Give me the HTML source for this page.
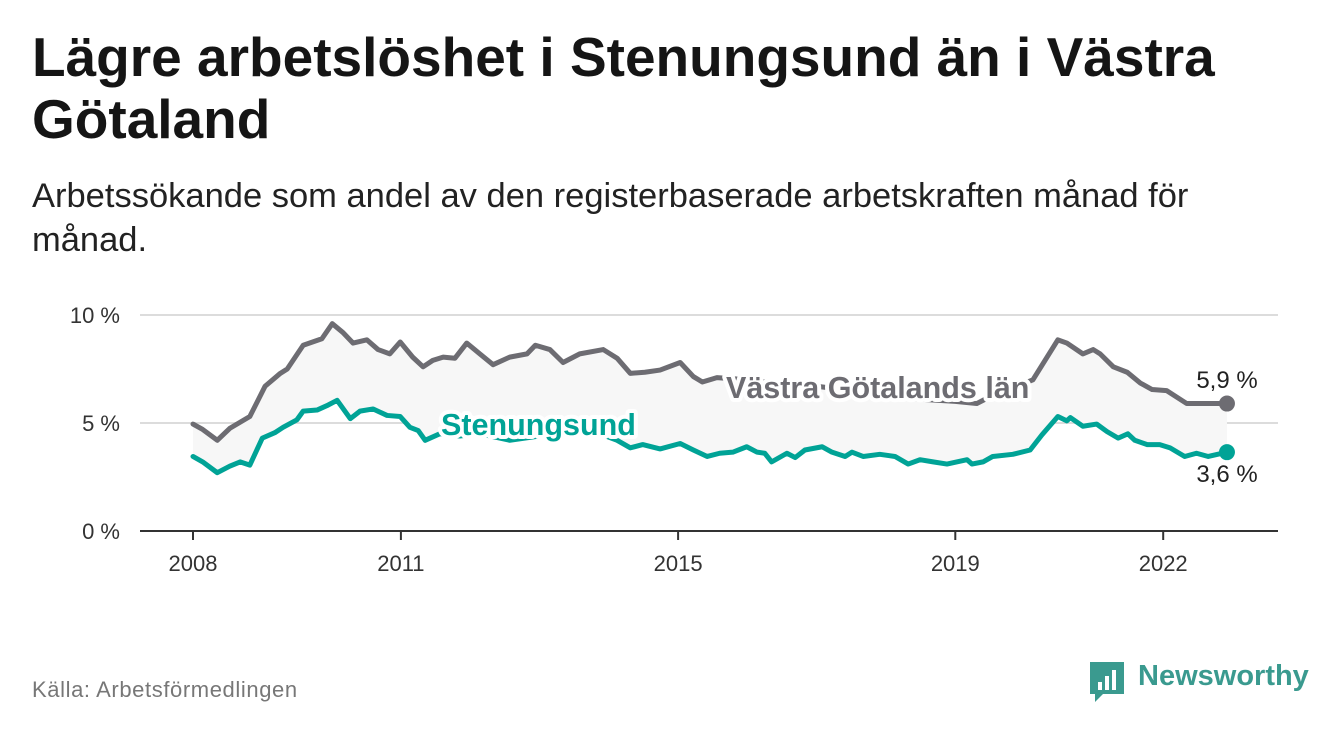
<!DOCTYPE html>
<html><head><meta charset="utf-8">
<style>
body{margin:0;width:1340px;height:734px;background:#fff;font-family:"Liberation Sans",sans-serif;overflow:hidden;position:relative}
h1{position:absolute;left:32px;top:26px;margin:0;font-size:55px;line-height:62px;font-weight:bold;color:#151515;width:1280px}
.sub{position:absolute;left:32px;top:174px;margin:0;font-size:34.5px;line-height:44px;color:#222;width:1220px}
.src{position:absolute;left:32px;top:677px;font-size:22px;letter-spacing:0.6px;color:#777}
.logo{position:absolute;left:1088px;top:660px}
.logo span{position:absolute;left:50px;top:0px;font-size:29px;font-weight:bold;color:#3a9a8f;white-space:nowrap}
</style></head><body>
<h1>Lägre arbetslöshet i Stenungsund än i Västra Götaland</h1>
<p class="sub">Arbetssökande som andel av den registerbaserade arbetskraften månad för månad.</p>
<svg id="chart" width="1340" height="734" style="position:absolute;left:0;top:0" xmlns="http://www.w3.org/2000/svg"></svg>
<div class="src">Källa: Arbetsförmedlingen</div>
<div class="logo">
<svg width="40" height="44"><path d="M2 2h34v32H15l-8 8v-8H2z" fill="#3a9a8f"/><rect x="10" y="22" width="4" height="8" fill="#fff"/><rect x="17" y="16" width="4" height="14" fill="#fff"/><rect x="24" y="10" width="4" height="20" fill="#fff"/></svg>
<span>Newsworthy</span></div>
<script>
const grayYears=[2008.00,2008.14,2008.35,2008.53,2008.82,2009.04,2009.26,2009.36,2009.59,2009.86,2010.01,2010.16,2010.31,2010.51,2010.67,2010.84,2010.99,2011.17,2011.32,2011.46,2011.61,2011.78,2011.95,2012.14,2012.33,2012.57,2012.82,2012.94,2013.15,2013.34,2013.58,2013.92,2014.12,2014.31,2014.52,2014.74,2015.03,2015.22,2015.35,2015.56,2016.0,2016.5,2017.0,2017.5,2018.0,2018.5,2019.0,2019.31,2019.43,2020.12,2020.48,2020.61,2020.84,2020.99,2021.09,2021.28,2021.48,2021.67,2021.84,2022.05,2022.34,2022.92];
const grayValues=[4.95,4.7,4.2,4.75,5.3,6.7,7.3,7.5,8.6,8.9,9.6,9.2,8.7,8.85,8.4,8.2,8.75,8.05,7.6,7.9,8.05,8.0,8.7,8.2,7.7,8.05,8.2,8.6,8.4,7.8,8.2,8.4,8.0,7.3,7.35,7.45,7.8,7.15,6.9,7.1,7.0,6.8,6.7,6.5,6.3,6.1,6.0,5.9,6.1,7.0,8.85,8.7,8.2,8.4,8.2,7.6,7.35,6.85,6.55,6.5,5.9,5.9];
const tealYears=[2008.00,2008.14,2008.35,2008.53,2008.68,2008.82,2009.00,2009.18,2009.30,2009.50,2009.59,2009.79,2009.93,2010.08,2010.27,2010.41,2010.60,2010.80,2010.99,2011.13,2011.25,2011.35,2011.56,2011.85,2012.14,2012.57,2013.01,2013.44,2013.87,2014.12,2014.31,2014.49,2014.74,2015.03,2015.22,2015.42,2015.60,2015.79,2015.99,2016.14,2016.25,2016.35,2016.57,2016.69,2016.83,2017.08,2017.22,2017.41,2017.51,2017.67,2017.91,2018.13,2018.32,2018.49,2018.68,2018.88,2019.02,2019.17,2019.24,2019.40,2019.54,2019.83,2020.08,2020.25,2020.48,2020.61,2020.66,2020.84,2021.04,2021.19,2021.35,2021.49,2021.59,2021.77,2021.95,2022.10,2022.31,2022.48,2022.65,2022.92];
const tealValues=[3.45,3.2,2.7,3.0,3.2,3.05,4.3,4.55,4.8,5.15,5.55,5.6,5.8,6.05,5.2,5.55,5.65,5.35,5.3,4.8,4.65,4.2,4.5,4.4,4.5,4.2,4.4,4.6,4.5,4.2,3.85,4.0,3.8,4.05,3.75,3.45,3.6,3.65,3.9,3.65,3.6,3.2,3.6,3.4,3.75,3.9,3.65,3.45,3.65,3.45,3.55,3.45,3.1,3.3,3.2,3.1,3.2,3.3,3.1,3.2,3.45,3.55,3.75,4.45,5.3,5.1,5.25,4.85,4.95,4.6,4.3,4.5,4.2,4.0,4.0,3.85,3.45,3.6,3.45,3.65];
const yTicks=[0,5,10];
const yTickLabels=["0 %","5 %","10 %"];
const xTicks=[2008,2011,2015,2019,2022];
const xTickLabels=["2008","2011","2015","2019","2022"];
const grayEndLabel="5,9 %", tealEndLabel="3,6 %";

const NS="http://www.w3.org/2000/svg";
const svg=document.getElementById('chart');
const X=y=>193+(y-2008)*69.3;
const Y=v=>531-v*21.6;
function mk(t,a){const e=document.createElementNS(NS,t);for(const k in a)e.setAttribute(k,a[k]);svg.appendChild(e);return e;}
yTicks.forEach((t,i)=>{
  if(t>0){const g=mk('line',{x1:140,x2:1278,y1:Y(t),y2:Y(t),stroke:'#dcdcdc','stroke-width':2});
  
  }
  const l=mk('text',{x:120,y:Y(t)+8,'text-anchor':'end','font-size':22,fill:'#333'});l.textContent=yTickLabels[i];
  
  
});
let pts=grayYears.map((y,i)=>X(y)+','+Y(grayValues[i]));
for(let i=tealYears.length-1;i>=0;i--)pts.push(X(tealYears[i])+','+Y(tealValues[i]));
const area=mk('polygon',{points:pts.join(' '),fill:'#f7f7f7'});


const ax=mk('line',{x1:140,x2:1278,y1:531,y2:531,stroke:'#333','stroke-width':2});


xTicks.forEach((t,i)=>{
  const tk=mk('line',{x1:X(t),x2:X(t),y1:531,y2:540,stroke:'#333','stroke-width':2});
  
  
  const l=mk('text',{x:X(t),y:571,'text-anchor':'middle','font-size':22,fill:'#333'});l.textContent=xTickLabels[i];
  
  
});
function line(ys,vs,c,name){
  const p=mk('polyline',{points:ys.map((y,i)=>X(y)+','+Y(vs[i])).join(' '),fill:'none',stroke:c,'stroke-width':5,'stroke-linejoin':'round','stroke-linecap':'round'});
  
  
  const d=mk('circle',{cx:X(ys[ys.length-1]),cy:Y(vs[vs.length-1]),r:8,fill:c});
  
  
}
line(grayYears,grayValues,'#6d6c72','vastra-gotaland-line');
line(tealYears,tealValues,'#00a396','stenungsund-line');
function lab(txt,x,y,c,name,anchor,bold,size,halo){
  const t=mk('text',{x:x,y:y,'text-anchor':anchor,'font-size':size,'font-weight':bold?'bold':'normal',fill:c,stroke:halo?'#fff':'none','stroke-width':halo?8:0,'paint-order':'stroke','stroke-linejoin':'round'});
  t.textContent=txt;
  
  
}
lab('Västra Götalands län',726,398,'#6d6c72','vastra-gotaland-label','start',true,30.5,true);
lab('Stenungsund',441,435,'#00a396','stenungsund-label','start',true,30.5,true);
lab(grayEndLabel,1227,388,'#222','gray-end-value','middle',false,24,false);
lab(tealEndLabel,1227,482,'#222','teal-end-value','middle',false,24,false);
</script>
</body></html>
